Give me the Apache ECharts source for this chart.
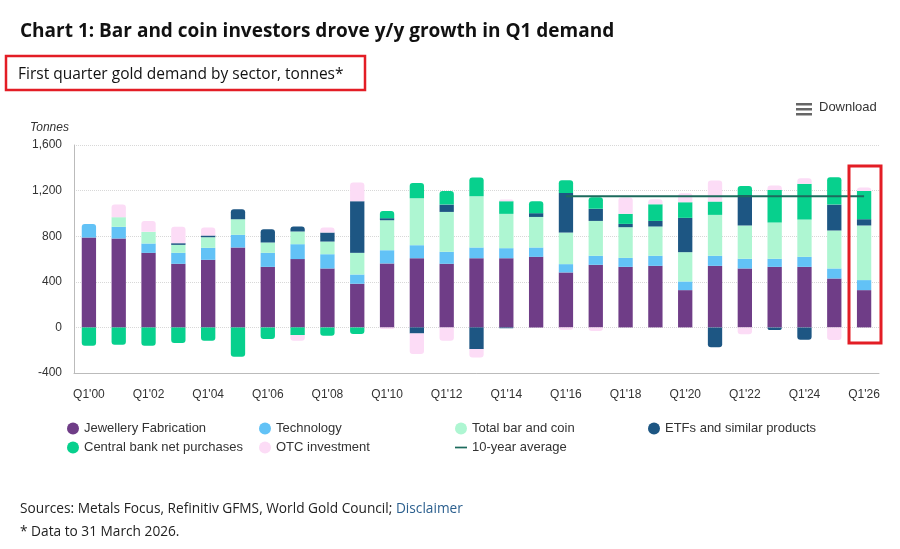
<!DOCTYPE html>
<html>
<head>
<meta charset="utf-8">
<script src="https://cdn.jsdelivr.net/npm/echarts@6/dist/echarts.min.js"></script>
<style>
  html, body { margin: 0; padding: 0; background: #fff; }
  #main { width: 900px; height: 549px; }
</style>
</head>
<body>
<div id="main"></div>
<script>
// categories, Q1 of each year
var categories = ["Q1'00","Q1'01","Q1'02","Q1'03","Q1'04","Q1'05","Q1'06","Q1'07","Q1'08","Q1'09",
  "Q1'10","Q1'11","Q1'12","Q1'13","Q1'14","Q1'15","Q1'16","Q1'17","Q1'18","Q1'19",
  "Q1'20","Q1'21","Q1'22","Q1'23","Q1'24","Q1'25","Q1'26"];

// tonnes
var jewellery   = [788,780,654,558,593,701,531,599,517,383,561,607,558,607,607,619,482,549,531,540,327,540,517,531,531,429,327];
var technology  = [120,102,82,96,105,111,123,131,125,81,116,114,105,94,88,82,73,79,79,88,76,88,85,71,88,88,88];
var barCoin     = [0,85,102,70,93,137,91,111,111,190,263,412,350,449,301,268,277,306,269,257,257,359,292,318,327,333,479];
var etfs        = [0,0,0,15,15,88,117,44,79,453,18,-53,64,-190,-8,33,348,106,29,49,301,-175,268,-23,-108,227,55];
var centralBank = [-160,-152,-160,-137,-117,-257,-102,-67,-73,-58,64,134,120,164,111,105,111,102,88,146,137,117,79,286,313,240,248];
var otc         = [0,111,96,143,70,0,0,-50,44,163,-15,-181,-117,-73,15,0,-20,-32,143,44,79,184,-61,38,49,-111,30];
var tenYearAvg  = [null,null,null,null,null,null,null,null,null,null,null,null,null,null,null,null,
  1150,1150,1150,1150,1150,1150,1150,1150,1150,1150,1150];

var names = ['Jewellery Fabrication','Technology','Total bar and coin','ETFs and similar products','Central bank net purchases','OTC investment'];
var colors = ['#6f3d87','#62c2f6','#aef6d2','#1d5683','#07d08d','#fcdcf6'];
var values = [jewellery, technology, barCoin, etfs, centralBank, otc];

// which series sits at the top / bottom end of each stack (for rounded ends)
var topIdx = [], botIdx = [];
for (var i = 0; i < categories.length; i++) {
  topIdx[i] = -1; botIdx[i] = -1;
  for (var s = 0; s < values.length; s++) {
    if (values[s][i] > 0) topIdx[i] = s;
    if (values[s][i] < 0) botIdx[i] = s;
  }
}

var series = [];
for (var s = 0; s < values.length; s++) {
  var d = values[s].map(function (v, i) {
    var r = 0;
    if (topIdx[i] === s && v > 0) r = [3, 3, 0, 0];
    if (botIdx[i] === s && v < 0) r = [0, 0, 3, 3];
    return { value: v, itemStyle: { borderRadius: r } };
  });
  series.push({
    name: names[s],
    type: 'bar',
    stack: 'total',
    barWidth: '48%',
    itemStyle: { color: colors[s] },
    data: d
  });
}
series.push({
  name: '10-year average',
  type: 'line',
  symbol: 'none',
  z: 5,
  lineStyle: { color: '#1c6b5d', width: 2 },
  itemStyle: { color: '#1c6b5d' },
  data: tenYearAvg
});

var myChart = echarts.init(document.getElementById('main'));
var fontChart = 'Liberation Sans, Arial, sans-serif';
var fontPage = 'Open Sans, Noto Sans, sans-serif';

function legendBlock(left, items) {
  return {
    orient: 'vertical',
    left: left,
    top: 417,
    itemWidth: 12,
    itemHeight: 12,
    itemGap: 6,
    selectedMode: false,
    textStyle: { fontFamily: fontChart, fontSize: 13, color: '#333' },
    data: items
  };
}

var option = {
  animation: false,
  title: [
    {
      text: 'Chart 1: Bar and coin investors drove y/y growth in Q1 demand',
      left: 15, top: 17,
      textStyle: { fontFamily: fontPage, fontSize: 19, fontWeight: 'bold', color: '#111' }
    },
    {
      text: 'First quarter gold demand by sector, tonnes*',
      left: 13, top: 62,
      textStyle: { fontFamily: fontPage, fontSize: 15.5, fontWeight: 'normal', color: '#111' }
    },
    {
      text: '{a|Sources: Metals Focus, Refinitiv GFMS, World Gold Council; }{b|Disclaimer}',
      left: 15, top: 497,
      textStyle: {
        fontWeight: 'normal',
        rich: {
          a: { fontFamily: fontPage, fontSize: 13.7, fontWeight: 'normal', color: '#222' },
          b: { fontFamily: fontPage, fontSize: 13.7, fontWeight: 'normal', color: '#2b5f8e' }
        }
      }
    },
    {
      text: '* Data to 31 March 2026.',
      left: 15, top: 520,
      textStyle: { fontFamily: fontPage, fontSize: 13.7, fontWeight: 'normal', color: '#222' }
    }
  ],
  legend: [
    legendBlock(62, [{ name: 'Jewellery Fabrication', icon: 'circle' }, { name: 'Central bank net purchases', icon: 'circle' }]),
    legendBlock(254, [{ name: 'Technology', icon: 'circle' }, { name: 'OTC investment', icon: 'circle' }]),
    legendBlock(450, [{ name: 'Total bar and coin', icon: 'circle' }, { name: '10-year average', icon: 'path://M0,0H14V2H0Z' }]),
    legendBlock(643, [{ name: 'ETFs and similar products', icon: 'circle' }])
  ],
  grid: { left: 74, right: 21, top: 145, bottom: 176 },
  xAxis: {
    type: 'category',
    data: categories,
    axisLine: { onZero: false, lineStyle: { color: '#bbb' } },
    axisTick: { show: false },
    axisLabel: { interval: 1, margin: 16, fontFamily: fontChart, fontSize: 12, color: '#333' }
  },
  yAxis: {
    type: 'value',
    min: -400, max: 1600, interval: 400,
    axisLine: { show: true, lineStyle: { color: '#bbb' } },
    axisTick: { show: false },
    axisLabel: {
      margin: 12, fontFamily: fontChart, fontSize: 12, color: '#333',
      formatter: function (v) { return v.toLocaleString('en-US'); }
    },
    splitLine: { lineStyle: { color: '#d8d8d8', type: 'dotted' } }
  },
  graphic: [
    { type: 'rect', shape: { x: 6, y: 56, width: 359, height: 34 }, style: { fill: 'none', stroke: '#e31d25', lineWidth: 2.5 } },
    { type: 'text', left: 30, top: 122, style: { text: 'Tonnes', font: 'italic 12px Liberation Sans, Arial', fill: '#333' } },
    { type: 'rect', shape: { x: 796, y: 103, width: 16, height: 2.5 }, style: { fill: '#666' } },
    { type: 'rect', shape: { x: 796, y: 108, width: 16, height: 2.5 }, style: { fill: '#666' } },
    { type: 'rect', shape: { x: 796, y: 113, width: 16, height: 2.5 }, style: { fill: '#666' } },
    { type: 'text', left: 819, top: 101, style: { text: 'Download', font: '13px Liberation Sans, Arial', fill: '#333' } },
    { type: 'rect', z: 10, shape: { x: 849, y: 166, width: 32, height: 177 }, style: { fill: 'none', stroke: '#e31d25', lineWidth: 3 } }
  ],
  series: series
};

myChart.setOption(option);
</script>
</body>
</html>
